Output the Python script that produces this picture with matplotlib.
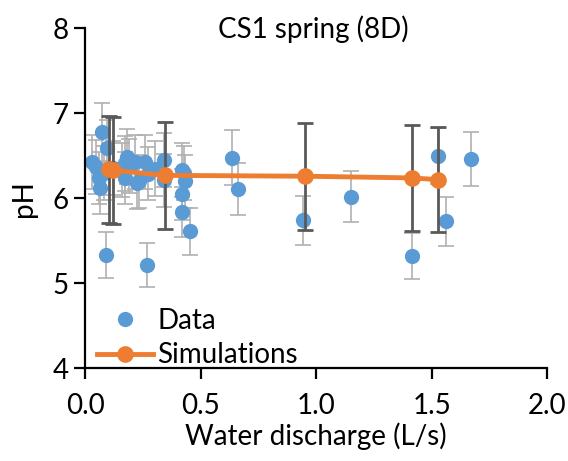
import matplotlib.pyplot as plt

plt.rcParams['font.family'] = ['Lato', 'DejaVu Sans']

# measured pH vs discharge
data_q = [0.028, 0.046, 0.058, 0.065, 0.072, 0.08, 0.089, 0.094, 0.12,
          0.158, 0.17, 0.17, 0.18, 0.19, 0.216, 0.223, 0.23, 0.26, 0.268,
          0.27, 0.30, 0.339, 0.34, 0.417, 0.419, 0.419, 0.425, 0.43, 0.454,
          0.635, 0.659, 0.942, 1.152, 1.414, 1.527, 1.562, 1.672]
data_ph = [6.43, 6.37, 6.24, 6.12, 6.78, 6.30, 5.33, 6.59, 6.36,
           6.33, 6.41, 6.24, 6.49, 6.38, 6.43, 6.18, 6.20, 6.43, 5.22,
           6.29, 6.35, 6.45, 6.21, 5.84, 6.05, 6.33, 6.30, 6.20, 5.61,
           6.48, 6.11, 5.74, 6.02, 5.32, 6.50, 5.73, 6.46]
data_err = [0.32, 0.32, 0.31, 0.31, 0.34, 0.32, 0.27, 0.33, 0.32,
            0.32, 0.32, 0.31, 0.32, 0.32, 0.32, 0.31, 0.31, 0.32, 0.26,
            0.31, 0.32, 0.32, 0.31, 0.29, 0.30, 0.32, 0.32, 0.31, 0.28,
            0.32, 0.31, 0.29, 0.30, 0.27, 0.33, 0.29, 0.32]

# model runs
sim_q = [0.10, 0.12, 0.343, 0.953, 1.414, 1.527]
sim_ph = [6.34, 6.33, 6.27, 6.26, 6.24, 6.22]
sim_err = [0.63, 0.63, 0.63, 0.63, 0.62, 0.62]

blue = '#5B9BD5'
orange = '#ED7D31'
fs = 20

fig = plt.figure(figsize=(5.68, 4.61), dpi=100)
ax = fig.add_axes([0.1505, 0.201, 0.8125, 0.7376])

ax.errorbar(data_q, data_ph, yerr=data_err, fmt='none', ecolor='#b0b0b0',
            elinewidth=1.2, capsize=6, capthick=1.2, zorder=1)
ax.plot(data_q, data_ph, 'o', color=blue, markersize=11, markeredgewidth=0,
        label='Data', zorder=2)
ax.errorbar(sim_q, sim_ph, yerr=sim_err, fmt='none', ecolor='#595959',
            elinewidth=2, capsize=6, capthick=2, zorder=3)
ax.plot(sim_q, sim_ph, '-o', color=orange, lw=3.5, markersize=12,
        markeredgewidth=0, label='Simulations', zorder=4)

ax.set_xlim(0, 2.0)
ax.set_ylim(4, 8)
ax.set_xticks([0.0, 0.5, 1.0, 1.5, 2.0])
ax.set_xticklabels(['0.0', '0.5', '1.0', '1.5', '2.0'])
ax.set_yticks([4, 5, 6, 7, 8])

for s in ['top', 'right']:
    ax.spines[s].set_visible(False)
for s in ['left', 'bottom']:
    ax.spines[s].set_linewidth(1.6)
ax.tick_params(direction='out', length=8, width=1.6, labelsize=fs, pad=4)
ax.tick_params(axis='x', pad=10)

ax.set_xlabel('Water discharge (L/s)', fontsize=fs, labelpad=2)
ax.set_ylabel('pH', fontsize=fs, labelpad=11)
fig.text(0.552, 0.937, 'CS1 spring (8D)', fontsize=fs, ha='center', va='center')

ax.legend(loc='lower left', frameon=False, fontsize=fs, handlelength=2.0,
          handletextpad=0.18, borderpad=0.0, borderaxespad=0.0,
          labelspacing=0.3, bbox_to_anchor=(0.025, 0.0))

fig.savefig('out.png', dpi=100)
